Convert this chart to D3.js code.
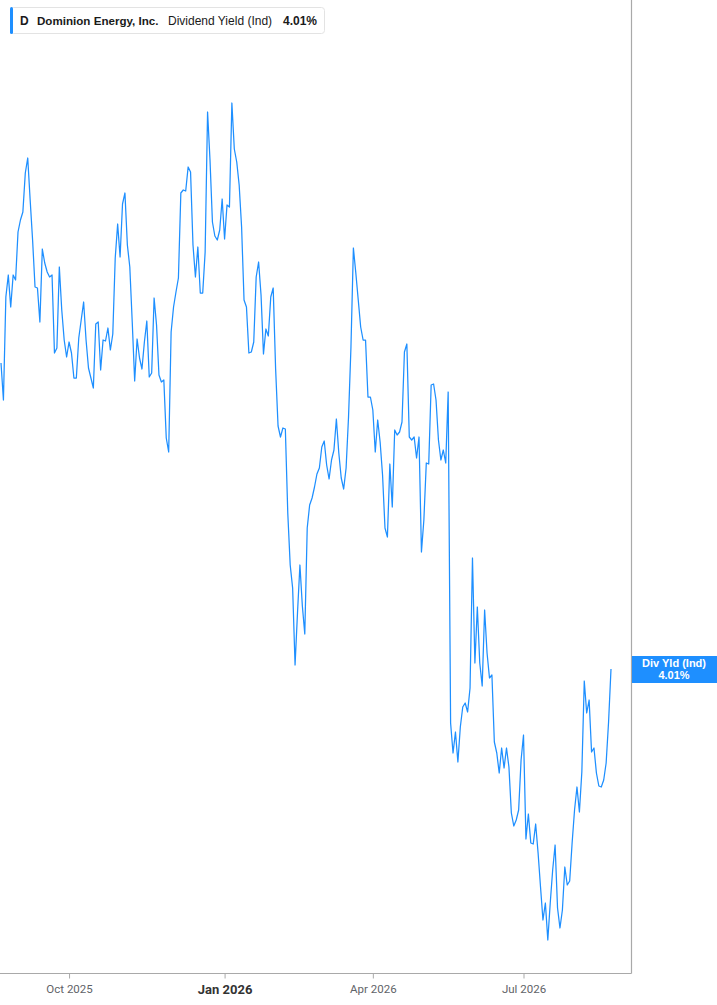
<!DOCTYPE html>
<html>
<head>
<meta charset="utf-8">
<script src="https://cdn.jsdelivr.net/npm/d3@7"></script>
<style>
  html, body { margin: 0; padding: 0; background: #fff; }
  svg { display: block; }
</style>
</head>
<body>
<svg id="chart" width="717" height="1005"></svg>
<script>
// ---------- data ----------
const ticker = "D";
const company = "Dominion Energy, Inc.";
const metric = "Dividend Yield (Ind)";
const shortMetric = "Div Yld (Ind)";
const lastLabel = "4.01%";
const startDate = "2025-08-21";
const holidays = ["2025-09-01","2025-11-27","2025-12-25","2026-01-01","2026-01-19",
                  "2026-02-16","2026-04-03","2026-05-25","2026-06-19","2026-07-03"];
const tickMonths = ["2025-10","2026-01","2026-04","2026-07"];
const tickLabels = ["Oct 2025","Jan 2026","Apr 2026","Jul 2026"];
const yieldValues = [
4.316,4.279,4.382,4.404,4.372,4.404,4.399,4.447,4.459,4.467,
4.506,4.521,4.479,4.439,4.392,4.391,4.357,4.430,4.416,4.407,
4.402,4.404,4.326,4.331,4.412,4.369,4.339,4.322,4.337,4.326,
4.301,4.301,4.341,4.359,4.377,4.339,4.311,4.301,4.291,4.355,
4.357,4.309,4.339,4.338,4.351,4.329,4.345,4.421,4.455,4.422,
4.475,4.486,4.434,4.412,4.357,4.298,4.340,4.321,4.310,4.337,
4.358,4.302,4.306,4.381,4.354,4.304,4.297,4.299,4.241,4.227,
4.347,4.372,4.387,4.401,4.486,4.489,4.488,4.512,4.507,4.434,
4.402,4.432,4.386,4.386,4.427,4.567,4.519,4.457,4.443,4.439,
4.449,4.480,4.440,4.474,4.472,4.576,4.530,4.517,4.494,4.452,
4.379,4.372,4.326,4.327,4.337,4.402,4.417,4.384,4.325,4.350,
4.343,4.382,4.391,4.310,4.253,4.242,4.251,4.250,4.166,4.114,
4.091,4.014,4.066,4.114,4.073,4.045,4.151,4.174,4.181,4.192,
4.205,4.211,4.232,4.238,4.214,4.200,4.219,4.229,4.260,4.226,
4.201,4.190,4.211,4.262,4.332,4.431,4.406,4.379,4.352,4.339,
4.339,4.282,4.282,4.269,4.227,4.259,4.237,4.204,4.151,4.142,
4.215,4.172,4.249,4.244,4.247,4.257,4.327,4.335,4.242,4.239,
4.242,4.221,4.242,4.127,4.159,4.216,4.215,4.294,4.295,4.279,
4.239,4.219,4.229,4.216,4.287,3.956,3.926,3.947,3.917,3.952,
3.972,3.976,3.967,3.991,4.121,4.016,4.072,4.016,3.993,4.069,
4.026,4.001,4.004,3.937,3.926,3.906,3.931,3.911,3.931,3.912,
3.866,3.853,3.859,3.869,3.919,3.944,3.840,3.865,3.836,3.835,
3.855,3.826,3.792,3.759,3.776,3.739,3.776,3.809,3.834,3.771,
3.751,3.769,3.812,3.794,3.798,3.836,3.869,3.892,3.867,3.907,
3.998,3.966,3.979,3.927,3.931,3.906,3.893,3.892,3.899,3.916,
3.957,4.010
];

// ---------- trading-day calendar ----------
const fmt = d3.utcFormat("%Y-%m-%d");
const dates = [];
{
  let d = new Date(startDate + "T00:00:00Z");
  const hol = new Set(holidays);
  while (dates.length < yieldValues.length) {
    const wd = d.getUTCDay();
    const s = fmt(d);
    if (wd !== 0 && wd !== 6 && !hol.has(s)) dates.push(s);
    d = d3.utcDay.offset(d, 1);
  }
}
const data = yieldValues.map((v, i) => ({ date: dates[i], value: v }));

// ---------- layout ----------
const W = 717, H = 1005;
const plot = { left: 0, top: 0, right: 631, bottom: 973 };
const blue = "#1e8fff";

const svg = d3.select("#chart");

const x = d3.scalePoint()
  .domain(dates)
  .range([1, 611]);

const y = d3.scaleLinear()
  .domain([3.706, 4.679])
  .range([plot.bottom, plot.top]);

// frame (bottom + right)
svg.append("line")
  .attr("x1", 0).attr("x2", plot.right + 0.5)
  .attr("y1", plot.bottom + 0.5).attr("y2", plot.bottom + 0.5)
  .attr("stroke", "#a9a9a9").attr("stroke-width", 1.2);
svg.append("line")
  .attr("x1", plot.right + 0.5).attr("x2", plot.right + 0.5)
  .attr("y1", 0).attr("y2", plot.bottom + 0.5)
  .attr("stroke", "#a9a9a9").attr("stroke-width", 1.2);

// x axis ticks
const tickDates = tickMonths.map(m => dates.find(d => d.startsWith(m)));
const axis = d3.axisBottom(x)
  .tickValues(tickDates)
  .tickSize(5)
  .tickFormat((d, i) => tickLabels[i]);
const gx = svg.append("g")
  .attr("transform", `translate(0,${plot.bottom + 0.5})`)
  .call(axis);
gx.select(".domain").remove();
gx.selectAll(".tick line").attr("stroke", "#a9a9a9");
gx.selectAll(".tick text")
  .attr("y", 11)
  .attr("dy", "0.71em")
  .attr("fill", (d, i) => tickLabels[i].startsWith("Jan") ? "#333" : "#5f6368")
  .style("font-family", "'Liberation Sans Narrow', Roboto, 'Liberation Sans', sans-serif")
  .style("font-size", (d, i) => tickLabels[i].startsWith("Jan") ? "13px" : "11.5px")
  .style("font-weight", (d, i) => tickLabels[i].startsWith("Jan") ? "700" : "400");

// line
const line = d3.line()
  .x(d => x(d.date))
  .y(d => y(d.value));
svg.append("path")
  .datum(data)
  .attr("fill", "none")
  .attr("stroke", blue)
  .attr("stroke-width", 1.25)
  .attr("stroke-linejoin", "round")
  .attr("d", line);

// last value label on right
const last = data[data.length - 1];
const ly = y(last.value);
svg.append("rect")
  .attr("x", plot.right + 1).attr("y", ly - 13)
  .attr("width", W - plot.right - 1).attr("height", 27)
  .attr("fill", blue);
const lab = svg.append("text")
  .attr("text-anchor", "middle")
  .attr("fill", "#fff")
  .style("font-family", "'Liberation Sans', Arial, sans-serif")
  .style("font-size", "11px")
  .style("font-weight", "700");
lab.append("tspan").attr("x", 674).attr("y", ly - 2).text(shortMetric);
lab.append("tspan").attr("x", 674).attr("y", ly + 10).text(lastLabel);

// legend box
const lg = svg.append("g");
lg.append("rect")
  .attr("x", 10.5).attr("y", 7.5).attr("width", 314).attr("height", 26)
  .attr("rx", 3).attr("fill", "#fff").attr("stroke", "#e3e3e3");
lg.append("rect")
  .attr("x", 10).attr("y", 7).attr("width", 3).attr("height", 27)
  .attr("rx", 1.5).attr("fill", blue);
const lt = lg.append("text")
  .attr("y", 25)
  .attr("fill", "#1a1a1a")
  .style("font-family", "'Liberation Sans', Arial, sans-serif")
  .style("font-size", "12px");
lt.append("tspan").attr("x", 20).style("font-weight", "700").text(ticker);
lt.append("tspan").attr("x", 37).style("font-weight", "700").style("font-size", "11.6px").text(company);
lt.append("tspan").attr("x", 168).style("font-weight", "400").text(metric);
lt.append("tspan").attr("x", 283).style("font-weight", "700").text(lastLabel);
</script>
</body>
</html>
